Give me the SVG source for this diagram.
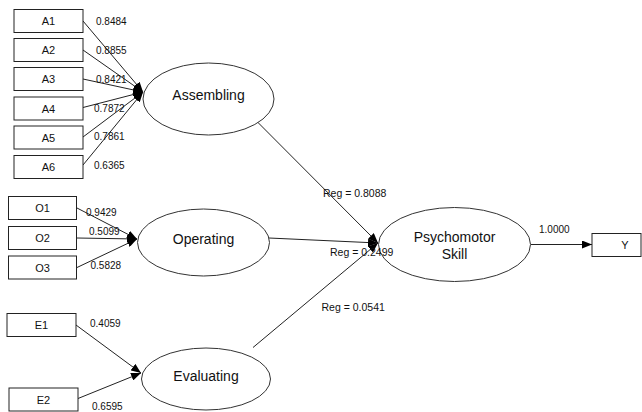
<svg xmlns="http://www.w3.org/2000/svg" width="642" height="412" viewBox="0 0 642 412">
<style>
.box{fill:#fff;stroke:#222;stroke-width:1}
.ell{fill:#fff;stroke:#333;stroke-width:1}
.ln{stroke:#222;stroke-width:1;fill:none;marker-end:url(#ah)}
.bl{font-family:"Liberation Sans",Arial,sans-serif;font-size:11px;fill:#111;text-anchor:middle}
.el{font-family:"Liberation Sans",Arial,sans-serif;font-size:14px;fill:#111;text-anchor:middle}
.nm{font-family:"Liberation Sans",Arial,sans-serif;font-size:10px;fill:#111}
.rg{font-family:"Liberation Sans",Arial,sans-serif;font-size:10.5px;fill:#111}
</style>
<defs>
<marker id="ah" viewBox="0 0 10 8" refX="10" refY="4" markerWidth="10" markerHeight="8" markerUnits="userSpaceOnUse" orient="auto">
<path d="M0,0 L10,4 L0,8 z" fill="#000"/>
</marker>
</defs>
<g id="connectors">
<line class="ln" x1="83" y1="21" x2="143" y2="92"/>
<line class="ln" x1="83" y1="50" x2="143" y2="92"/>
<line class="ln" x1="83" y1="79" x2="143" y2="92"/>
<line class="ln" x1="83" y1="107.5" x2="143" y2="92"/>
<line class="ln" x1="83" y1="137" x2="143" y2="92"/>
<line class="ln" x1="83" y1="165" x2="143" y2="92"/>
<line class="ln" x1="77" y1="208" x2="137" y2="239"/>
<line class="ln" x1="77" y1="238" x2="137" y2="239"/>
<line class="ln" x1="77" y1="267.5" x2="137" y2="239"/>
<line class="ln" x1="76" y1="325" x2="141" y2="373"/>
<line class="ln" x1="78" y1="398.5" x2="141" y2="373"/>
<line class="ln" x1="257" y1="121.5" x2="378" y2="243"/>
<line class="ln" x1="269" y1="238" x2="378" y2="243"/>
<line class="ln" x1="253" y1="347.5" x2="378" y2="243"/>
<line class="ln" x1="531" y1="244.5" x2="592" y2="244.5"/>
</g>
<g id="A1"><rect class="box" x="14" y="9.5" width="69" height="23"/><text class="bl" x="48.5" y="25">A1</text></g>
<g id="A2"><rect class="box" x="14" y="38.5" width="69" height="23"/><text class="bl" x="48.5" y="54">A2</text></g>
<g id="A3"><rect class="box" x="14" y="67.5" width="69" height="23"/><text class="bl" x="48.5" y="83">A3</text></g>
<g id="A4"><rect class="box" x="14" y="97" width="69" height="23"/><text class="bl" x="48.5" y="112.5">A4</text></g>
<g id="A5"><rect class="box" x="14" y="126" width="69" height="23"/><text class="bl" x="48.5" y="141.5">A5</text></g>
<g id="A6"><rect class="box" x="14" y="155.5" width="69" height="23"/><text class="bl" x="48.5" y="171">A6</text></g>
<g id="O1"><rect class="box" x="8.5" y="196.5" width="68" height="23"/><text class="bl" x="42.5" y="212">O1</text></g>
<g id="O2"><rect class="box" x="8.5" y="226.5" width="68" height="23"/><text class="bl" x="42.5" y="242">O2</text></g>
<g id="O3"><rect class="box" x="8.5" y="256" width="68" height="23"/><text class="bl" x="42.5" y="271.5">O3</text></g>
<g id="E1"><rect class="box" x="7" y="313.5" width="69" height="23"/><text class="bl" x="41.5" y="329">E1</text></g>
<g id="E2"><rect class="box" x="9" y="388" width="69" height="23"/><text class="bl" x="43.5" y="403.5">E2</text></g>
<g id="Y"><rect class="box" x="592" y="233.5" width="49" height="23"/><text class="bl" x="625" y="249">Y</text></g>
<g id="Assembling"><ellipse class="ell" cx="208.5" cy="99" rx="65.5" ry="36"/><text class="el" x="208.5" y="100">Assembling</text></g>
<g id="Operating"><ellipse class="ell" cx="203.5" cy="242.5" rx="66" ry="33.5"/><text class="el" x="203.5" y="244">Operating</text></g>
<g id="Evaluating"><ellipse class="ell" cx="206" cy="379" rx="64.5" ry="31"/><text class="el" x="206" y="381">Evaluating</text></g>
<g id="PsychomotorSkill"><ellipse class="ell" cx="454.5" cy="244.5" rx="76" ry="37"/><text class="el" x="454.5" y="241.5">Psychomotor</text><text class="el" x="454.5" y="259">Skill</text></g>
<g id="labels">
<text class="nm" x="96" y="25">0.8484</text>
<text class="nm" x="96" y="54">0.8855</text>
<text class="nm" x="96" y="83">0.8421</text>
<text class="nm" x="94" y="112">0.7872</text>
<text class="nm" x="94" y="140">0.7861</text>
<text class="nm" x="94" y="169">0.6365</text>
<text class="nm" x="86" y="216">0.9429</text>
<text class="nm" x="89" y="235">0.5099</text>
<text class="nm" x="90.5" y="269">0.5828</text>
<text class="nm" x="90" y="327">0.4059</text>
<text class="nm" x="92" y="410">0.6595</text>
<text class="rg" x="323" y="196.5">Reg = 0.8088</text>
<text class="rg" x="330" y="256">Reg = 0.2499</text>
<text class="rg" x="321.5" y="311">Reg = 0.0541</text>
<text class="nm" x="539" y="232.5">1.0000</text>
</g>
</svg>
